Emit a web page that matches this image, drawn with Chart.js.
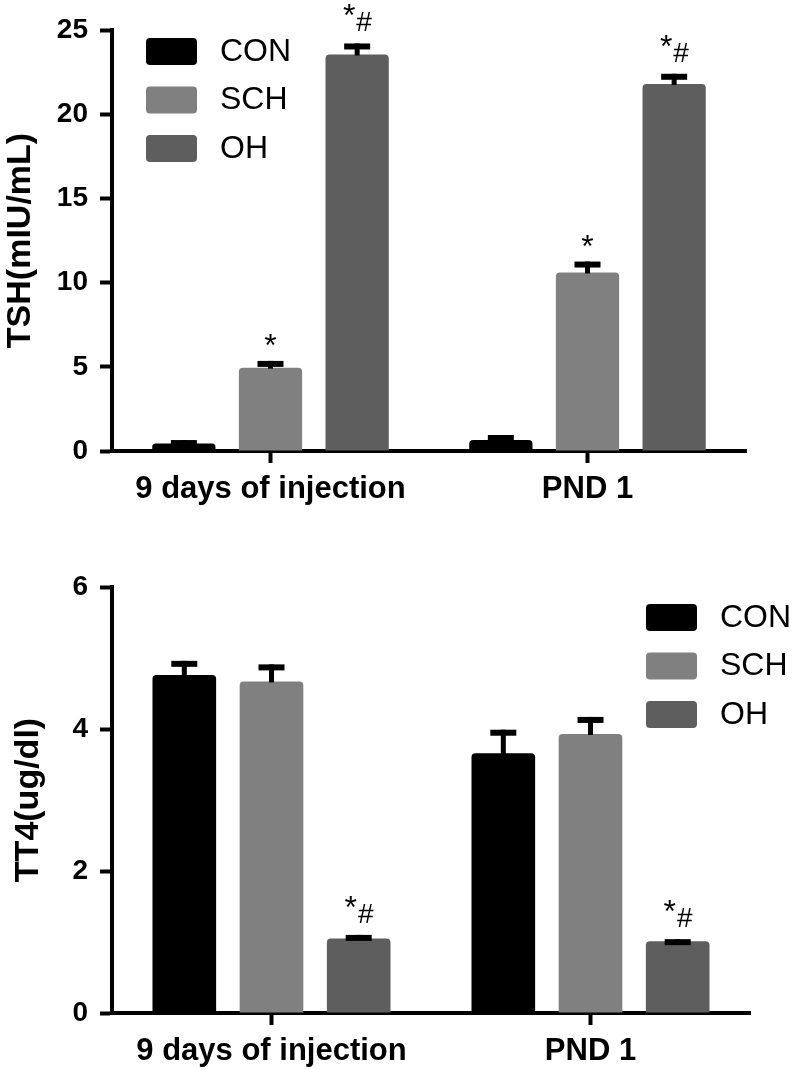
<!DOCTYPE html>
<html>
<head>
<meta charset="utf-8">
<script src="https://cdn.jsdelivr.net/npm/chart.js@4.4.1/dist/chart.umd.min.js"></script>
<style>
  html, body { margin: 0; padding: 0; background: #fff; }
  #top { position: absolute; left: 0; top: 0; }
  #bottom { position: absolute; left: 0; top: 530px; }
</style>
</head>
<body>
<canvas id="top" width="793" height="530"></canvas>
<canvas id="bottom" width="793" height="540"></canvas>
<script>
var categories = ["9 days of injection", "PND 1"];
var groups = ["CON", "SCH", "OH"];
var colors = ["#000000", "#808080", "#5e5e5e"];

// TSH (mIU/mL)
var tshCON = [0.45, 0.65];
var tshSCH = [4.95, 10.6];
var tshOH = [23.55, 21.8];
var tshErrCON = [0.2, 0.3];
var tshErrSCH = [0.4, 0.65];
var tshErrOH = [0.65, 0.6];
var tshMarks = [["", ""], ["*", "*"], ["*#", "*#"]];
var tshTicks = [0, 5, 10, 15, 20, 25];

// TT4 (ug/dl)
var tt4CON = [4.76, 3.66];
var tt4SCH = [4.67, 3.93];
var tt4OH = [1.05, 1.01];
var tt4ErrCON = [0.2, 0.33];
var tt4ErrSCH = [0.24, 0.24];
var tt4ErrOH = [0.05, 0.03];
var tt4Marks = [["", ""], ["", ""], ["*#", "*#"]];
var tt4Ticks = [0, 2, 4, 6];

var FONT = "'Liberation Sans', Arial, sans-serif";

// error bars (upper only) and significance marks
var errorBars = {
  id: "errorBars",
  afterDatasetsDraw: function (chart, args, opts) {
    var ctx = chart.ctx;
    var y = chart.scales.y;
    ctx.save();
    chart.data.datasets.forEach(function (ds, di) {
      var meta = chart.getDatasetMeta(di);
      meta.data.forEach(function (bar, i) {
        var v = ds.data[i];
        var top = y.getPixelForValue(v + opts.errors[di][i]);
        ctx.fillStyle = "#000";
        ctx.fillRect(bar.x - 2.5, top, 5, bar.y - top + 1);
        ctx.fillRect(bar.x - 13, top, 26, 6);
        var m = opts.marks[di][i];
        ctx.textAlign = "center";
        ctx.textBaseline = "alphabetic";
        if (m === "*") {
          ctx.font = "32px " + FONT;
          ctx.fillText("*", bar.x, top - 5);
        } else if (m === "*#") {
          ctx.font = "32px " + FONT;
          ctx.fillText("*", bar.x - 8, top - 17);
          ctx.font = "28px " + FONT;
          ctx.fillText("#", bar.x + 7, top - 12);
        }
      });
    });
    ctx.restore();
  }
};

var boxLegend = {
  id: "boxLegend",
  afterDraw: function (chart, args, opts) {
    var ctx = chart.ctx;
    var a = chart.chartArea;
    var x0 = opts.fromRight ? a.right + opts.dx : a.left + opts.dx;
    var y0 = a.top + opts.dy;
    ctx.save();
    chart.data.datasets.forEach(function (ds, i) {
      var yy = y0 + i * 48.5;
      ctx.fillStyle = ds.backgroundColor;
      ctx.beginPath();
      ctx.roundRect(x0, yy, 51, 27, 4);
      ctx.fill();
      ctx.fillStyle = "#000";
      ctx.font = "32px " + FONT;
      ctx.textAlign = "left";
      ctx.textBaseline = "middle";
      ctx.fillText(ds.label, x0 + 74, yy + 14);
    });
    ctx.restore();
  }
};

function makeChart(id, series, errors, marks, ticks, title, xHeight, pad, legendPos, titlePad) {
  return new Chart(document.getElementById(id), {
    type: "bar",
    data: {
      labels: categories,
      datasets: groups.map(function (g, i) {
        return {
          label: g,
          data: series[i],
          backgroundColor: colors[i],
          borderRadius: 4,
          borderSkipped: "start",
          barPercentage: 0.73,
          categoryPercentage: 0.82
        };
      })
    },
    options: {
      responsive: false,
      animation: false,
      layout: { padding: pad },
      plugins: {
        legend: { display: false },
        tooltip: { enabled: false },
        errorBars: { errors: errors, marks: marks },
        boxLegend: legendPos
      },
      scales: {
        x: {
          offset: true,
          grid: { display: true, drawOnChartArea: false, offset: false, tickLength: 12, tickWidth: 4, tickColor: "#000" },
          border: { display: true, color: "#000", width: 4 },
          ticks: { color: "#000", padding: 8, font: { family: FONT, size: 31, weight: "bold" } },
          afterFit: function (s) { s.height = xHeight; }
        },
        y: {
          min: ticks[0],
          max: ticks[ticks.length - 1],
          afterBuildTicks: function (s) { s.ticks = ticks.map(function (v) { return { value: v }; }); },
          grid: { display: true, drawOnChartArea: false, tickLength: 12, tickWidth: 4, tickColor: "#000" },
          border: { display: true, color: "#000", width: 4 },
          ticks: { color: "#000", padding: 12, font: { family: FONT, size: 28, weight: "bold" } },
          title: { display: true, text: title, color: "#000", padding: { top: titlePad, bottom: 0 }, font: { family: FONT, size: 34, weight: "bold" } },
          afterFit: function (s) { s.width = 112; }
        }
      }
    },
    plugins: [errorBars, boxLegend]
  });
}

makeChart("top", [tshCON, tshSCH, tshOH], [tshErrCON, tshErrSCH, tshErrOH], tshMarks, tshTicks,
  "TSH(mIU/mL)", 79, { top: 30, right: 47, bottom: 0, left: 0 },
  { fromRight: false, dx: 34, dy: 8 }, 0);

makeChart("bottom", [tt4CON, tt4SCH, tt4OH], [tt4ErrCON, tt4ErrSCH, tt4ErrOH], tt4Marks, tt4Ticks,
  "TT4(ug/dl)", 57, { top: 57, right: 43, bottom: 0, left: 0 },
  { fromRight: true, dx: -104, dy: 17 }, 8);
</script>
</body>
</html>
